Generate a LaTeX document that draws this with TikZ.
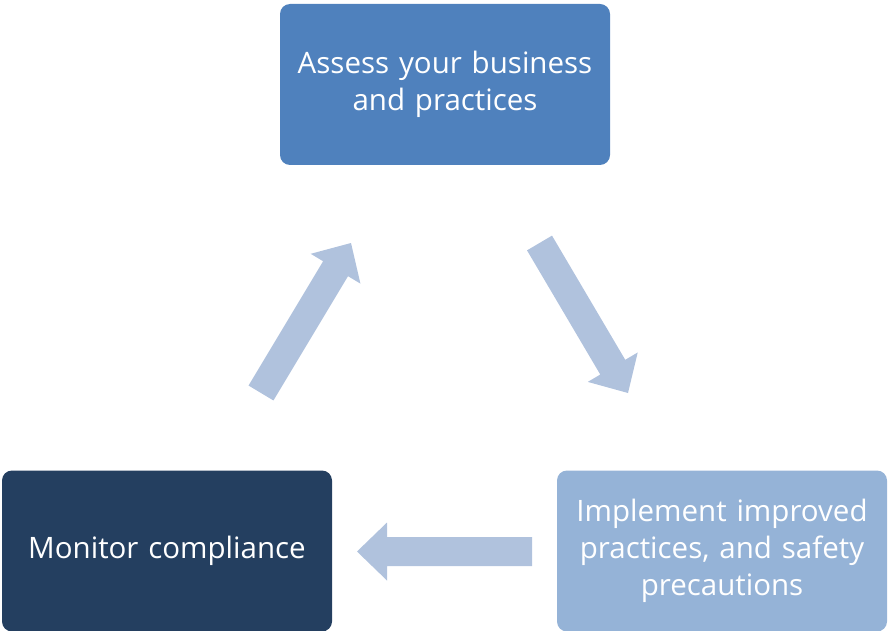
\documentclass[tikz,border=0pt]{standalone}
\usepackage{fontspec}
\setmainfont{Open Sans}
\usetikzlibrary{calc}
\definecolor{topblue}{HTML}{4F81BD}
\definecolor{darkblue}{HTML}{243F60}
\definecolor{lightblue}{HTML}{95B3D7}
\definecolor{arrowblue}{HTML}{B0C2DD}
\tikzset{
  box/.style={rounded corners=10pt, minimum width=330pt, minimum height=161pt,
    text width=326pt, align=center, text=white, inner sep=0pt,
    font=\fontsize{29.5pt}{37pt}\selectfont},
  arrowfill/.style={fill=arrowblue, draw=none}
}
\newcommand{\blockarrow}[2]{%
  \coordinate (hb) at ($(#2)!30pt!(#1)$);
  \fill[arrowfill] ($(#1)!14.5pt!90:(#2)$) -- ($(hb)!14.5pt!-90:(#1)$) -- ($(hb)!29pt!-90:(#1)$)
    -- (#2) -- ($(hb)!29pt!90:(#1)$) -- ($(hb)!14.5pt!90:(#1)$) -- ($(#1)!14.5pt!-90:(#2)$) -- cycle;
}
\begin{document}
\begin{tikzpicture}[x=1pt,y=-1pt]
\useasboundingbox (0,0) rectangle (888,631);
\node[box, fill=topblue] (assess) at (445,84.5) {Assess your business\\and practices};
\node[box, fill=darkblue] (monitor) at (167,551) {Monitor compliance};
\node[box, fill=lightblue] (implement) at (722,551) {Implement improved\\practices, and safety\\precautions};
\coordinate (a1t) at (261,393); \coordinate (a1h) at (351,243);
\coordinate (a2t) at (539.5,243); \coordinate (a2h) at (628,393);
\coordinate (a3t) at (532,551.5); \coordinate (a3h) at (357,551.5);
\blockarrow{a1t}{a1h}
\blockarrow{a2t}{a2h}
\blockarrow{a3t}{a3h}
\end{tikzpicture}
\end{document}
